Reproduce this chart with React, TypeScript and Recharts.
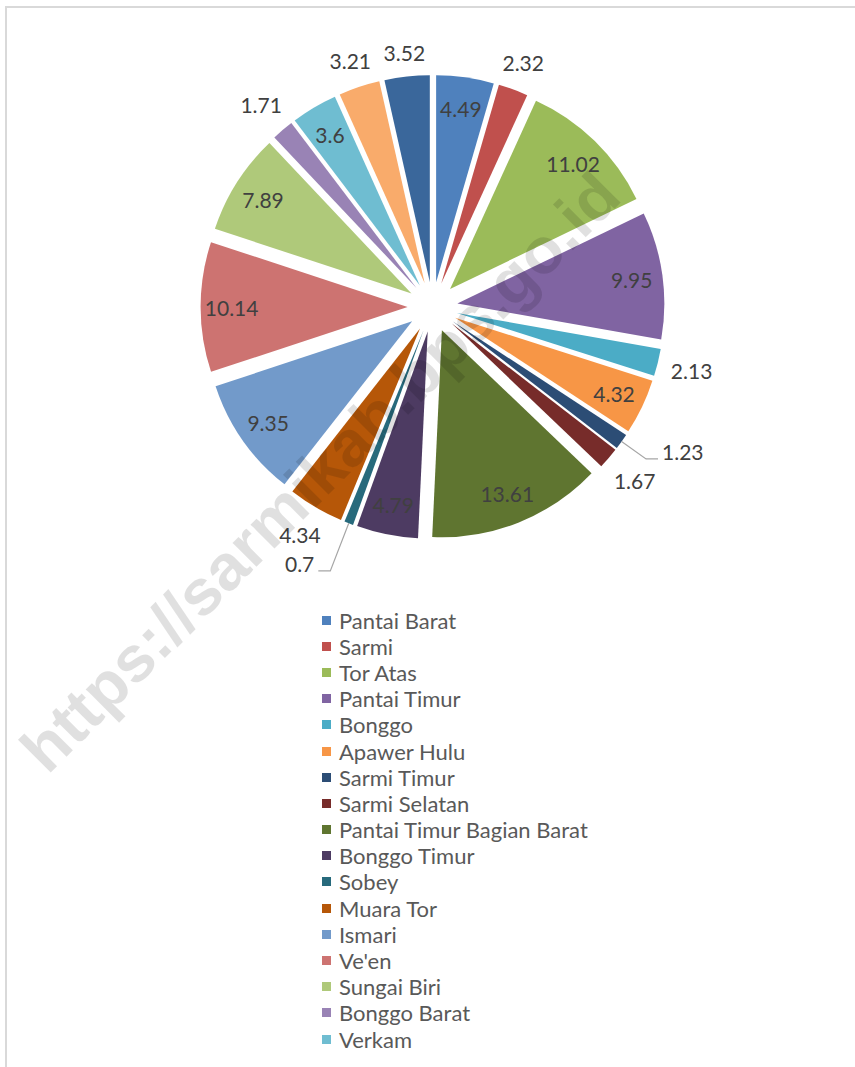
import React from "react";
import { PieChart, Pie, Cell, Legend, Sector } from "recharts";

const districts = [
  "Pantai Barat", "Sarmi", "Tor Atas", "Pantai Timur", "Bonggo", "Apawer Hulu",
  "Sarmi Timur", "Sarmi Selatan", "Pantai Timur Bagian Barat", "Bonggo Timur",
  "Sobey", "Muara Tor", "Ismari", "Ve'en", "Sungai Biri", "Bonggo Barat", "Verkam",
  "Distrik 18", "Distrik 19",
];
const shares = [
  4.49, 2.32, 11.02, 9.95, 2.13, 4.32, 1.23, 1.67, 13.61, 4.79,
  0.7, 4.34, 9.35, 10.14, 7.89, 1.71, 3.6, 3.21, 3.52,
];

const COLORS = [
  "#4F81BD", "#C0504D", "#9BBB59", "#8064A2", "#4BACC6", "#F79646",
  "#2C4D75", "#772C2A", "#5F7530", "#4D3B62", "#276A7C", "#B65708",
  "#729ACA", "#CD7371", "#AFC97A", "#9983B5", "#6FBDD1", "#F9AB6B", "#3A679B",
];

// where each data label sits: inside the slice, outside it, or outside with a leader line
const LABEL_POS = [
  "in", "out", "in", "in", "out", "in", "line", "out", "in", "in",
  "line", "out", "in", "in", "in", "out", "in", "out", "out",
];
const LEADER: Record<number, number> = { 6: 30, 10: 51 };
const LEGEND_ROWS = 17; // legend box is cut off after Verkam

const data = districts.map((name, i) => ({ name, value: shares[i] }));

const FONT = "Lato, 'Noto Sans', sans-serif";
const EXPLODE = 25;
const RAD = Math.PI / 180;

const ExplodedSector = (props: any) => {
  const { cx, cy, midAngle, outerRadius, startAngle, endAngle, fill } = props;
  const dx = EXPLODE * Math.cos(-midAngle * RAD);
  const dy = EXPLODE * Math.sin(-midAngle * RAD);
  return (
    <Sector
      cx={cx + dx}
      cy={cy + dy}
      innerRadius={0}
      outerRadius={outerRadius}
      startAngle={startAngle}
      endAngle={endAngle}
      fill={fill}
      stroke="none"
    />
  );
};

const renderLabel = (p: any) => {
  const { cx, cy, midAngle, outerRadius, index, value } = p;
  const ux = Math.cos(-midAngle * RAD);
  const uy = Math.sin(-midAngle * RAD);
  const ox = cx + EXPLODE * ux;
  const oy = cy + EXPLODE * uy;
  const mode = LABEL_POS[index];
  const text = String(value);
  const common = { fill: "#404040", fontSize: 21, fontFamily: FONT };

  if (mode === "line") {
    const sx = ox + outerRadius * ux;
    const sy = oy + outerRadius * uy;
    const ex = ox + (outerRadius + LEADER[index]) * ux;
    const ey = oy + (outerRadius + LEADER[index]) * uy;
    const side = ux >= 0 ? 1 : -1;
    const hx = ex + side * 12;
    return (
      <g>
        <path d={`M${sx},${sy}L${ex},${ey}L${hx},${ey}`} stroke="#A6A6A6" strokeWidth={1.2} fill="none" />
        <text {...common} x={hx + side * 4} y={ey - 7} textAnchor={side > 0 ? "start" : "end"} dominantBaseline="central">
          {text}
        </text>
      </g>
    );
  }

  let d = outerRadius * 0.85;
  if (mode === "out") {
    const w = text.length * 10.5;
    d = outerRadius + 12 + (Math.abs(ux) * w) / 2 + (Math.abs(uy) * 20) / 2;
  }
  return (
    <text {...common} x={ox + d * ux} y={oy + d * uy} textAnchor="middle" dominantBaseline="central">
      {text}
    </text>
  );
};

const renderLegend = () => (
  <div style={{ fontFamily: FONT, fontSize: 22, color: "#595959" }}>
    {districts.slice(0, LEGEND_ROWS).map((name, i) => (
      <div key={name} style={{ height: 26.2, display: "flex", alignItems: "center", whiteSpace: "nowrap" }}>
        <span style={{ width: 9, height: 9, background: COLORS[i], display: "inline-block", marginRight: 8 }} />
        <span>{name}</span>
      </div>
    ))}
  </div>
);

export default function App() {
  return (
    <div style={{ position: "fixed", left: 0, top: 0, width: 855, height: 1067, overflow: "hidden", background: "#fff" }}>
      <div style={{ position: "absolute", left: 5, top: 6, width: 900, height: 1100, borderTop: "2px solid #D9D9D9", borderLeft: "2px solid #D9D9D9" }} />
      <PieChart width={855} height={1067} margin={{ top: 0, right: 0, bottom: 0, left: 0 }}>
        <Pie
          data={data}
          dataKey="value"
          nameKey="name"
          cx={432.6}
          cy={307}
          outerRadius={207}
          startAngle={90}
          endAngle={-270}
          shape={ExplodedSector}
          label={renderLabel}
          labelLine={false}
          isAnimationActive={false}
        >
          {data.map((_, i) => (
            <Cell key={`cell-${i}`} fill={COLORS[i]} />
          ))}
        </Pie>
        <Legend
          content={renderLegend}
          wrapperStyle={{ position: "absolute", left: 322, top: 607, width: 320, bottom: "auto", right: "auto" }}
        />
      </PieChart>
      <svg width={855} height={1067} style={{ position: "absolute", left: 0, top: 0, pointerEvents: "none" }}>
        <text
          x={320}
          y={472}
          transform="rotate(-45 320 472)"
          textAnchor="middle"
          dominantBaseline="central"
          fontFamily="'Liberation Sans', Arial, sans-serif"
          fontWeight="bold"
          fontSize={64}
          textLength={815}
          lengthAdjust="spacingAndGlyphs"
          fill="#000"
          fillOpacity={0.12}
        >
          https://sarmikab.bps.go.id
        </text>
      </svg>
    </div>
  );
}
